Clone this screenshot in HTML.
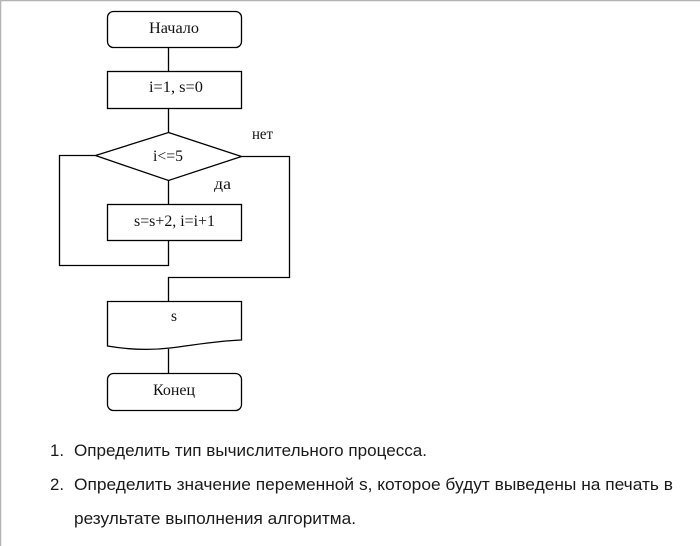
<!DOCTYPE html>
<html><head><meta charset="utf-8">
<style>
html,body{margin:0;padding:0;background:#fff;width:700px;height:546px;overflow:hidden}
svg{display:block}
.d{font-family:"Liberation Serif",serif;font-size:15.500px;fill:#111}
.t{font-family:"Liberation Sans",sans-serif;font-size:16.800px;fill:#1a1a1a}
.s{fill:none;stroke:#000;stroke-width:1.300}
</style></head><body>
<svg width="700" height="546" viewBox="0 0 700 546" xmlns="http://www.w3.org/2000/svg">
<rect width="700" height="546" fill="#fff"/>
<path d="M0 .5H700M.5 0V546" fill="none" stroke="#b4b4b4" stroke-width="1.500"/>
<rect class="s" x="107.500" y="11.500" width="134" height="36" rx="6"/>
<rect class="s" x="107.500" y="71.500" width="134" height="37"/>
<path class="s" d="M168.500 47.500V71.500M168.500 108.500V132.500"/>
<path class="s" d="M168.500 132.500L241.500 156.500L168.500 180.500L95.500 155.500Z"/>
<path class="s" d="M95.500 155.500H59.500V265.500H168.500V240.500M241.500 156.500H289.500V277.500H168.500V301.500M168.500 180.500V204.500"/>
<rect class="s" x="107.500" y="204.500" width="134" height="36"/>
<path class="s" d="M107.500 301.500H241.500V340C215 341 195 345 170 348C145 351 125 349 107.500 346Z"/>
<path class="s" d="M168.500 349V373.500"/>
<rect class="s" x="107.500" y="373.500" width="134" height="37" rx="6"/>
<text class="d" x="149" y="33" textLength="50" lengthAdjust="spacingAndGlyphs">Начало</text>
<text class="d" x="149" y="92" textLength="54" lengthAdjust="spacingAndGlyphs">i=1, s=0</text>
<text class="d" x="153" y="161" textLength="30" lengthAdjust="spacingAndGlyphs">i&lt;=5</text>
<text class="d" x="252" y="139" textLength="21" lengthAdjust="spacingAndGlyphs">нет</text>
<text class="d" x="214" y="189" textLength="17" lengthAdjust="spacingAndGlyphs">да</text>
<text class="d" x="134" y="226" textLength="81" lengthAdjust="spacingAndGlyphs">s=s+2, i=i+1</text>
<text class="d" x="171" y="321" textLength="6" lengthAdjust="spacingAndGlyphs">s</text>
<text class="d" x="153" y="395" textLength="42" lengthAdjust="spacingAndGlyphs">Конец</text>
<text class="t" x="50" y="456" textLength="14" lengthAdjust="spacingAndGlyphs">1.</text>
<text class="t" x="74" y="456" textLength="353" lengthAdjust="spacingAndGlyphs">Определить тип вычислительного процесса.</text>
<text class="t" x="50" y="490" textLength="14" lengthAdjust="spacingAndGlyphs">2.</text>
<text class="t" x="74" y="490" textLength="599" lengthAdjust="spacingAndGlyphs">Определить значение переменной s, которое будут выведены на печать в</text>
<text class="t" x="74" y="524" textLength="282" lengthAdjust="spacingAndGlyphs">результате выполнения алгоритма.</text>
</svg>
</body></html>
